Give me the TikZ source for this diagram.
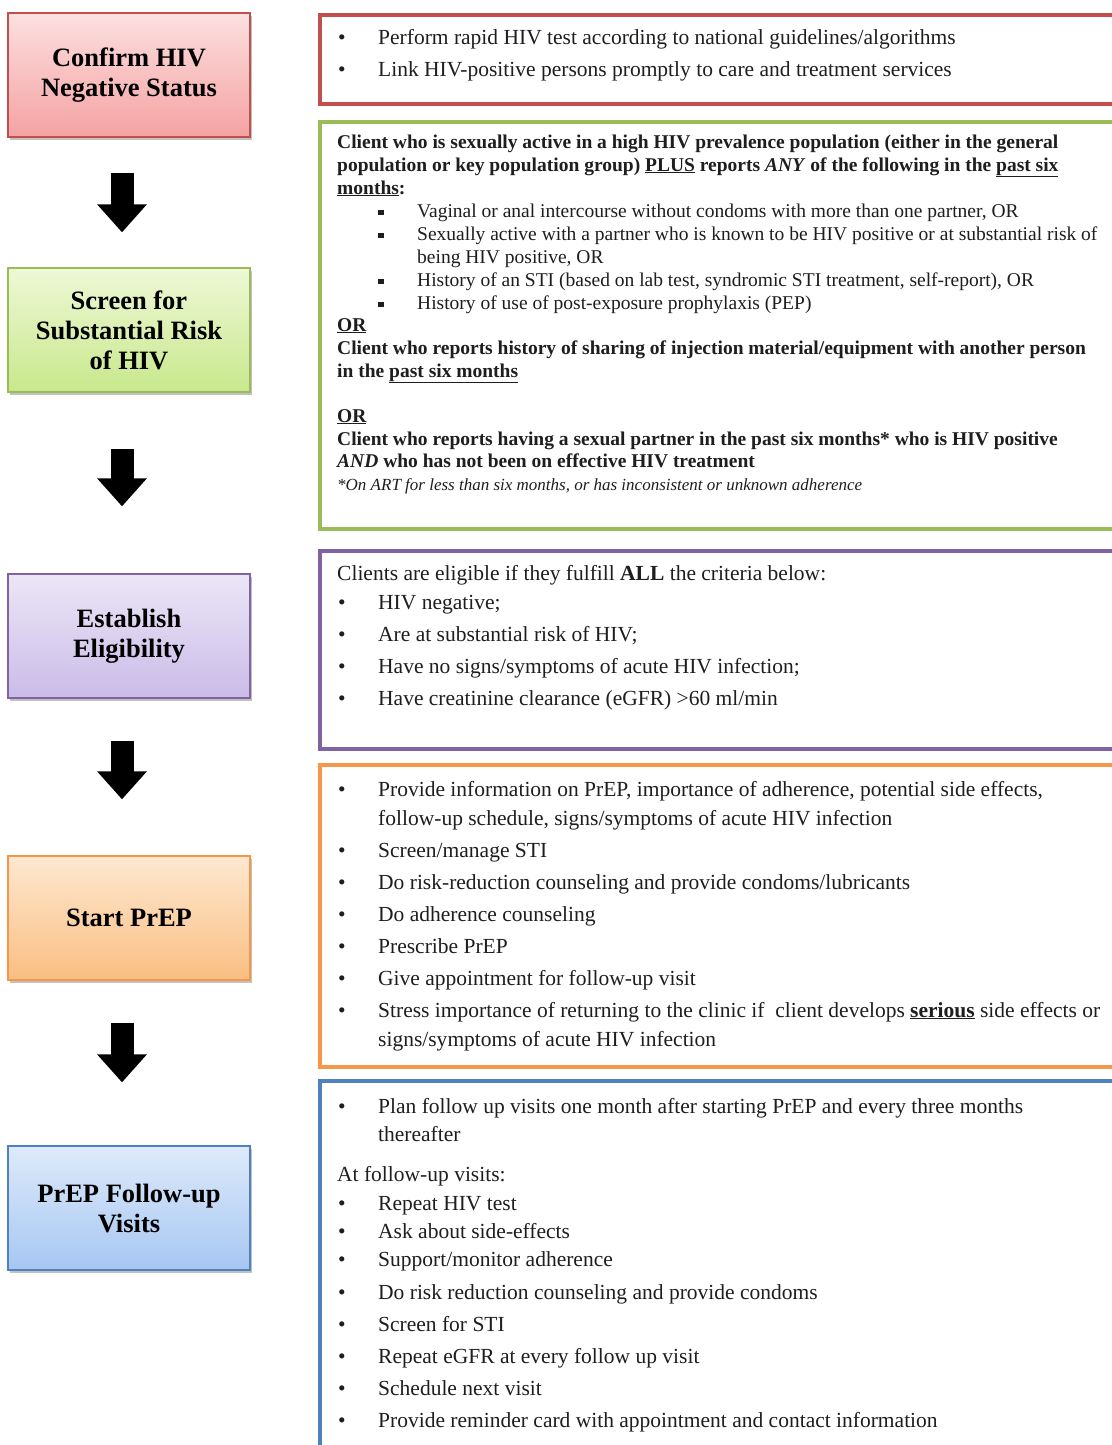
\documentclass[tikz,border=0pt]{standalone}
\usepackage{fontspec}
\setmainfont{Liberation Serif}
\usetikzlibrary{arrows.meta, positioning, shadows}
\definecolor{redB}{RGB}{192,80,77}
\definecolor{redT}{RGB}{252,224,224}
\definecolor{redL}{RGB}{245,162,162}
\definecolor{greenB}{RGB}{155,187,89}
\definecolor{greenT}{RGB}{238,248,214}
\definecolor{greenL}{RGB}{200,232,140}
\definecolor{purpleB}{RGB}{128,100,162}
\definecolor{purpleT}{RGB}{236,230,246}
\definecolor{purpleL}{RGB}{202,188,232}
\definecolor{orangeB}{RGB}{247,150,70}
\definecolor{orangeT}{RGB}{253,232,208}
\definecolor{orangeL}{RGB}{250,190,130}
\definecolor{blueB}{RGB}{79,129,189}
\definecolor{blueT}{RGB}{222,234,250}
\definecolor{blueL}{RGB}{166,199,242}
\definecolor{ink}{RGB}{30,30,30}
\tikzset{
    flow/.style={x=1pt, y=-1pt, text=ink, font=\fontsize{21.5}{26}\selectfont},
    stepbox/.style={draw, line width=1.3pt, minimum width=242pt, minimum height=124pt,
        align=center, text=black, font=\fontsize{26.5}{30}\selectfont\bfseries,
        drop shadow={shadow xshift=1.5pt, shadow yshift=-3pt, fill=black!40, opacity=.6}},
    panel/.style={line width=4pt},
    txt/.style={anchor=base west, inner sep=0pt},
    bullet/.style={anchor=base west, inner sep=0pt},
    gnorm/.style={txt, font=\fontsize{19.5}{23}\selectfont},
    gbold/.style={txt, font=\fontsize{19.5}{23}\selectfont\bfseries},
    bigarrow/.style={line width=23pt, -{Triangle[width=48pt, length=28pt]}},
}
\newcommand{\sqbul}{\raisebox{2pt}{\rule{5.5pt}{5.5pt}}}

\begin{document}
\begin{tikzpicture}[flow]
    \useasboundingbox[fill=white] (0,0) rectangle (1111,1445);

    % steps on the left
    \node[stepbox, draw=redB, top color=redT, bottom color=redL]          (confirm)  at (129,75)   {Confirm HIV\\Negative Status};
    \node[stepbox, draw=greenB, top color=greenT, bottom color=greenL]    (screen)   at (129,330)  {Screen for\\Substantial Risk\\of HIV};
    \node[stepbox, draw=purpleB, top color=purpleT, bottom color=purpleL] (elig)     at (129,636)  {Establish\\Eligibility};
    \node[stepbox, draw=orangeB, top color=orangeT, bottom color=orangeL] (start)    at (129,918)  {Start PrEP};
    \node[stepbox, draw=blueB, top color=blueT, bottom color=blueL]       (followup) at (129,1208) {PrEP Follow-up\\Visits};

    \draw[bigarrow] ([xshift=-7pt, yshift=-35pt]confirm.south) -- ([xshift=-7pt, yshift=35pt]screen.north);
    \draw[bigarrow] ([xshift=-7pt, yshift=-56pt]screen.south)  -- ([xshift=-7pt, yshift=67pt]elig.north);
    \draw[bigarrow] ([xshift=-7pt, yshift=-42pt]elig.south)    -- ([xshift=-7pt, yshift=56pt]start.north);
    \draw[bigarrow] ([xshift=-7pt, yshift=-42pt]start.south)   -- ([xshift=-7pt, yshift=63pt]followup.north);

    % panels on the right
    \draw[panel, draw=redB]    (320,15)   rectangle (1140,104);
    \draw[panel, draw=greenB]  (320,122)  rectangle (1140,529);
    \draw[panel, draw=purpleB] (320,551)  rectangle (1140,749);
    \draw[panel, draw=orangeB] (320,765)  rectangle (1140,1067);
    \draw[panel, draw=blueB]   (320,1081) rectangle (1140,1470);

    % confirm
    \foreach \y/\s [count=\i] in {45/{Perform rapid HIV test according to national guidelines/algorithms},
                                  77/{Link HIV-positive persons promptly to care and treatment services}}
        {\node[bullet] (rb\i) at (338,\y) {\textbullet}; \node[txt] (rt\i) at (378,\y) {\s};}

    % screen
    \node[gbold] (g1) at (337,148) {Client who is sexually active in a high HIV prevalence population (either in the general};
    \node[gbold] (g2) at (337,171) {population or key population group) \underline{PLUS} reports \textit{ANY} of the following in the \underline{past six}};
    \node[gbold] (g3) at (337,194) {\underline{months}:};
    \foreach \y/\s [count=\i] in {217/{Vaginal or anal intercourse without condoms with more than one partner, OR},
                                  240/{Sexually active with a partner who is known to be HIV positive or at substantial risk of},
                                  286/{History of an STI (based on lab test, syndromic STI treatment, self-report), OR},
                                  309/{History of use of post-exposure prophylaxis (PEP)}}
        {\node[bullet] (gb\i) at (378,\y) {\sqbul}; \node[gnorm] (gt\i) at (417,\y) {\s};}
    \node[gnorm] (g4) at (417,263) {being HIV positive, OR};
    \node[gbold] (g5) at (337,331) {\underline{OR}};
    \node[gbold] (g6) at (337,354) {Client who reports history of sharing of injection material/equipment with another person};
    \node[gbold] (g7) at (337,377) {in the \underline{past six months}};
    \node[gbold] (g8) at (337,422) {\underline{OR}};
    \node[gbold] (g9) at (337,445) {Client who reports having a sexual partner in the past six months* who is HIV positive};
    \node[gbold] (g10) at (337,467) {\textit{AND} who has not been on effective HIV treatment};
    \node[txt, font=\fontsize{17}{20}\selectfont\itshape] (g11) at (337,490) {*On ART for less than six months, or has inconsistent or unknown adherence};

    % eligibility
    \node[txt] (e0) at (337,580) {Clients are eligible if they fulfill \textbf{ALL} the criteria below:};
    \foreach \y/\s [count=\i] in {609/{HIV negative;}, 641/{Are at substantial risk of HIV;},
                                  673/{Have no signs/symptoms of acute HIV infection;},
                                  705/{Have creatinine clearance (eGFR) >60 ml/min}}
        {\node[bullet] (eb\i) at (338,\y) {\textbullet}; \node[txt] (et\i) at (378,\y) {\s};}

    % start
    \foreach \y/\s [count=\i] in {796/{Provide information on PrEP, importance of adherence, potential side effects,},
                                  857/{Screen/manage STI},
                                  889/{Do risk-reduction counseling and provide condoms/lubricants},
                                  921/{Do adherence counseling}, 953/{Prescribe PrEP},
                                  985/{Give appointment for follow-up visit},
                                  1017/{Stress importance of returning to the clinic if~ client develops \textbf{\underline{serious}} side effects or}}
        {\node[bullet] (sb\i) at (338,\y) {\textbullet}; \node[txt] (st\i) at (378,\y) {\s};}
    \node[txt] (s8) at (378,825)  {follow-up schedule, signs/symptoms of acute HIV infection};
    \node[txt] (s9) at (378,1046) {signs/symptoms of acute HIV infection};

    % follow-up
    \node[bullet] (fb0) at (338,1113) {\textbullet};
    \node[txt] (f0) at (378,1113) {Plan follow up visits one month after starting PrEP and every three months};
    \node[txt] (f1) at (378,1141) {thereafter};
    \node[txt] (f2) at (337,1181) {At follow-up visits:};
    \foreach \y/\s [count=\i] in {1210/{Repeat HIV test}, 1238/{Ask about side-effects},
                                  1266/{Support/monitor adherence},
                                  1299/{Do risk reduction counseling and provide condoms},
                                  1331/{Screen for STI}, 1363/{Repeat eGFR at every follow up visit},
                                  1395/{Schedule next visit},
                                  1427/{Provide reminder card with appointment and contact information}}
        {\node[bullet] (fb\i) at (338,\y) {\textbullet}; \node[txt] (ft\i) at (378,\y) {\s};}
\end{tikzpicture}
\end{document}
